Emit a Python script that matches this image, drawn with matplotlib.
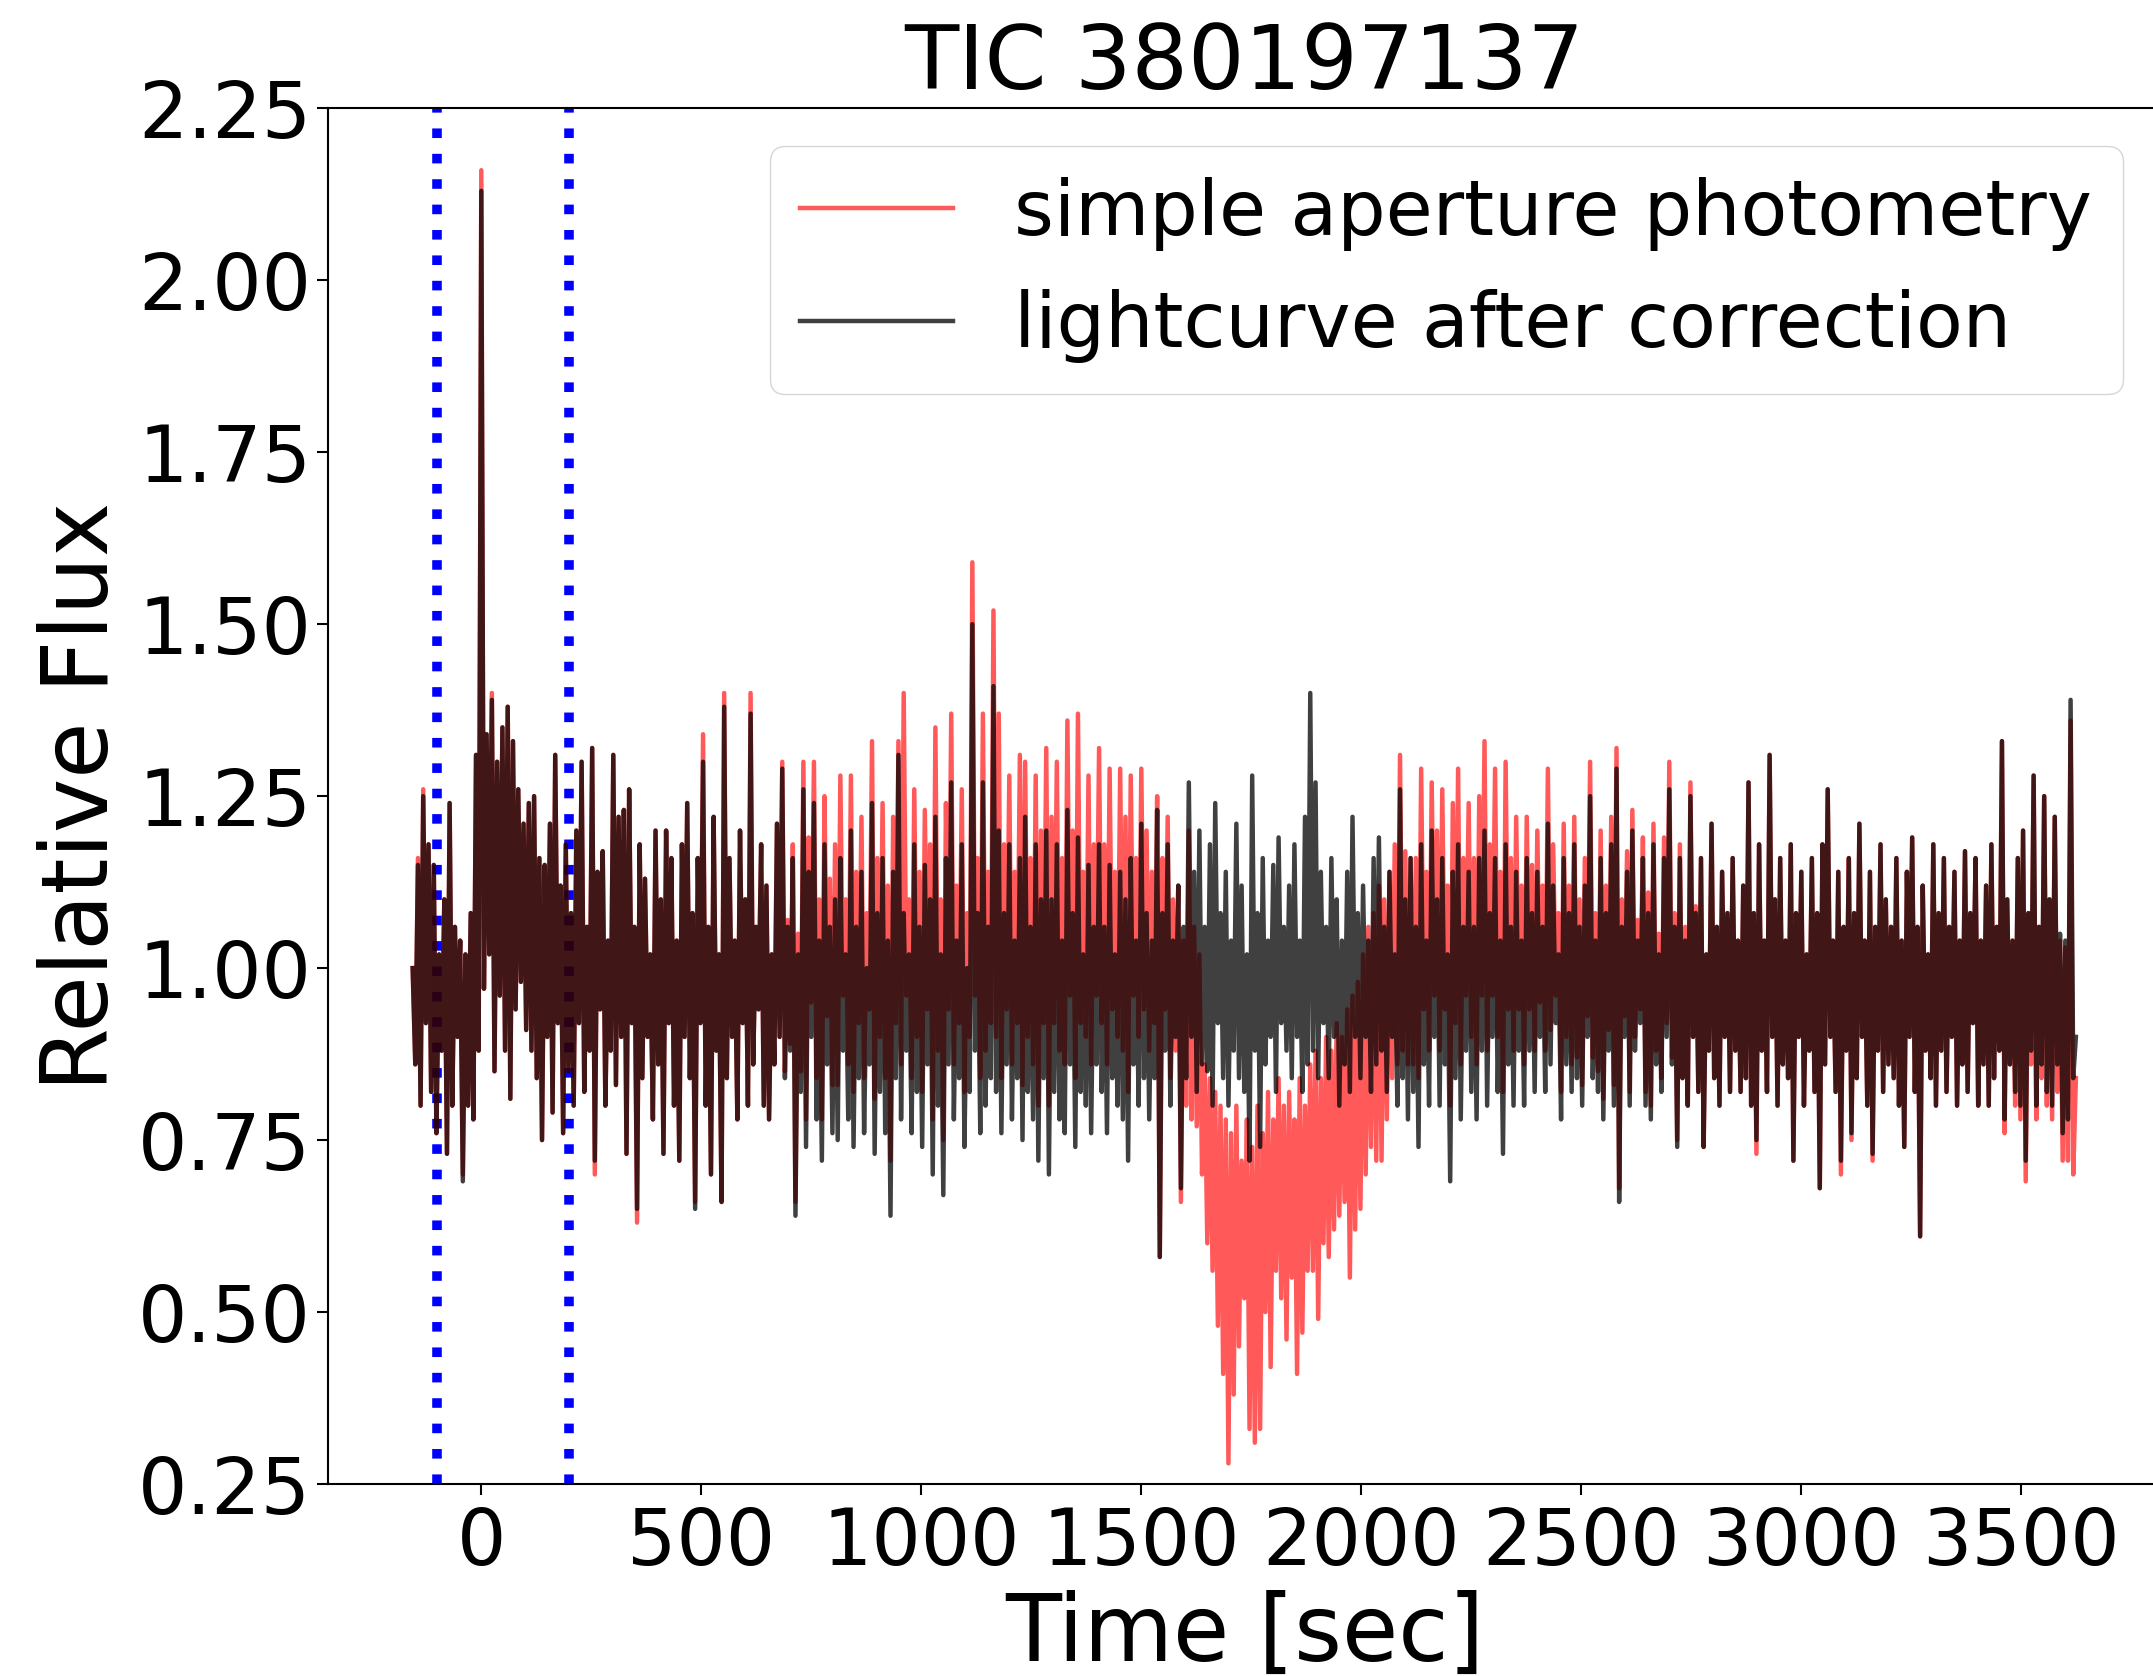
import numpy as np
import matplotlib
matplotlib.use("Agg")
import matplotlib.pyplot as plt
from matplotlib.ticker import FormatStrFormatter

title = "TIC 380197137"
label_sap = "simple aperture photometry"
label_corr = "lightcurve after correction"

# time sampling of the light curve (seconds relative to the event)
t_start = -156.0
t_step = 6.0

# simple aperture photometry (red), one row = 120 s
sap_flux = [
    1.00, 0.86, 1.16, 0.80, 1.26, 0.92, 1.18, 0.82, 1.15, 0.76, 1.02, 0.88, 1.10, 0.73, 1.24, 0.80, 1.06, 0.90, 1.04, 0.70,
    1.02, 0.80, 1.08, 0.78, 1.31, 0.88, 2.16, 0.97, 1.34, 1.02, 1.40, 0.85, 1.30, 0.96, 1.35, 0.88, 1.38, 0.81, 1.33, 0.94,
    1.26, 0.98, 1.21, 0.91, 1.24, 0.88, 1.25, 0.84, 1.16, 0.75, 1.15, 0.90, 1.21, 0.79, 1.31, 0.92, 1.12, 0.76, 1.18, 0.85,
    1.08, 0.80, 1.20, 0.92, 1.30, 0.82, 1.06, 0.88, 1.32, 0.70, 1.14, 0.94, 1.17, 0.80, 1.04, 0.88, 1.31, 0.83, 1.22, 0.90,
    1.23, 0.73, 1.26, 0.92, 1.06, 0.63, 1.18, 0.84, 1.13, 0.90, 1.02, 0.78, 1.20, 0.86, 1.10, 0.73, 1.20, 0.92, 1.16, 0.80,
    1.04, 0.72, 1.18, 0.90, 1.24, 0.84, 1.08, 0.66, 1.16, 0.92, 1.34, 0.80, 1.06, 0.70, 1.22, 0.88, 1.02, 0.66, 1.40, 0.84,
    1.16, 0.90, 1.04, 0.78, 1.20, 0.92, 1.10, 0.80, 1.40, 0.86, 1.06, 0.94, 1.18, 0.80, 1.12, 0.78, 1.02, 0.86, 1.21, 0.90,
    1.30, 0.85, 1.07, 0.89, 1.18, 0.66, 1.05, 0.85, 1.30, 0.78, 1.19, 0.95, 1.30, 0.84, 1.10, 0.78, 1.25, 0.93, 1.13, 0.83,
    1.18, 0.83, 1.28, 0.96, 1.10, 0.86, 1.28, 0.82, 1.14, 0.92, 1.22, 0.84, 1.08, 0.94, 1.33, 0.81, 1.16, 0.90, 1.24, 0.84,
    1.12, 0.72, 1.22, 0.92, 1.33, 0.86, 1.40, 0.96, 1.10, 0.84, 1.26, 0.90, 1.14, 0.82, 1.23, 0.94, 1.18, 0.78, 1.35, 0.88,
    1.10, 0.75, 1.24, 0.94, 1.37, 0.86, 1.12, 0.92, 1.26, 0.82, 1.08, 0.90, 1.59, 0.96, 1.16, 0.84, 1.37, 0.88, 1.14, 0.92,
    1.52, 0.90, 1.37, 0.84, 1.18, 0.94, 1.28, 0.86, 1.14, 0.92, 1.31, 0.83, 1.30, 0.90, 1.16, 0.86, 1.28, 0.80, 1.20, 0.92,
    1.32, 0.80, 1.22, 0.92, 1.30, 0.88, 1.16, 0.86, 1.36, 0.96, 1.20, 0.84, 1.37, 0.92, 1.14, 0.90, 1.28, 0.86, 1.18, 0.96,
    1.32, 0.92, 1.18, 0.86, 1.29, 0.94, 1.14, 0.90, 1.29, 0.88, 1.22, 0.82, 1.28, 0.96, 1.16, 0.90, 1.29, 0.94, 1.20, 0.88,
    1.14, 0.92, 1.25, 0.58, 1.16, 0.94, 1.22, 0.84, 1.10, 0.88, 1.12, 0.66, 1.04, 0.80, 1.20, 0.78, 1.06, 0.77, 1.02, 0.70,
    0.86, 0.60, 0.84, 0.56, 0.82, 0.48, 0.80, 0.41, 0.78, 0.28, 0.76, 0.38, 0.80, 0.45, 0.72, 0.52, 0.78, 0.33, 0.74, 0.31,
    0.80, 0.33, 0.76, 0.50, 0.82, 0.42, 0.78, 0.56, 0.84, 0.52, 0.80, 0.46, 0.82, 0.55, 0.78, 0.41, 0.84, 0.47, 0.80, 0.56,
    0.86, 0.56, 0.88, 0.49, 0.84, 0.60, 0.90, 0.58, 0.88, 0.62, 0.92, 0.64, 0.90, 0.66, 0.94, 0.55, 0.96, 0.62, 0.98, 0.65,
    1.02, 0.70, 1.06, 0.74, 1.08, 0.72, 1.12, 0.72, 1.10, 0.78, 1.14, 0.84, 1.18, 0.86, 1.31, 0.88, 1.17, 0.86, 1.16, 0.86,
    1.16, 0.84, 1.29, 0.94, 1.14, 0.88, 1.27, 0.96, 1.20, 0.88, 1.26, 0.94, 1.12, 0.80, 1.24, 0.92, 1.29, 0.86, 1.16, 0.96,
    1.24, 0.90, 1.16, 0.86, 1.25, 0.96, 1.33, 0.88, 1.18, 0.96, 1.29, 0.90, 1.14, 0.82, 1.30, 0.94, 1.16, 0.88, 1.22, 0.94,
    1.12, 0.86, 1.22, 0.94, 1.15, 0.88, 1.20, 0.95, 1.12, 0.88, 1.29, 0.91, 1.18, 0.96, 1.08, 0.82, 1.21, 0.90, 1.12, 0.86,
    1.22, 0.87, 1.10, 0.83, 1.16, 0.93, 1.30, 0.87, 1.08, 0.85, 1.20, 0.81, 1.12, 0.91, 1.22, 0.83, 1.32, 0.68, 1.10, 0.93,
    1.17, 0.82, 1.23, 0.90, 1.07, 0.94, 1.19, 0.82, 1.11, 0.80, 1.21, 0.88, 1.05, 0.84, 1.19, 0.92, 1.30, 0.87, 1.08, 0.75,
    1.18, 0.84, 1.06, 0.80, 1.27, 0.90, 1.09, 0.82, 1.16, 0.74, 1.02, 0.88, 1.21, 0.84, 1.06, 0.80, 1.14, 0.90, 1.08, 0.82,
    1.16, 0.88, 1.04, 0.82, 1.12, 0.84, 1.27, 0.80, 1.08, 0.73, 1.18, 0.88, 1.04, 0.82, 1.31, 0.90, 1.10, 0.80, 1.16, 0.86,
    1.04, 0.84, 1.18, 0.72, 1.08, 0.90, 1.14, 0.80, 1.02, 0.88, 1.16, 0.82, 1.08, 0.68, 1.18, 0.86, 1.26, 0.90, 1.04, 0.82,
    1.14, 0.70, 1.06, 0.88, 1.16, 0.75, 1.08, 0.84, 1.21, 0.90, 1.04, 0.80, 1.14, 0.72, 1.06, 0.88, 1.18, 0.82, 1.10, 0.86,
    1.06, 0.84, 1.16, 0.80, 1.04, 0.74, 1.14, 0.90, 1.19, 0.82, 1.06, 0.61, 1.12, 0.88, 1.02, 0.84, 1.18, 0.80, 1.08, 0.88,
    1.16, 0.82, 1.06, 0.90, 1.14, 0.80, 1.04, 0.86, 1.17, 0.82, 1.08, 0.92, 1.16, 0.80, 1.04, 0.86, 1.12, 0.80, 1.18, 0.84,
    1.06, 0.88, 1.33, 0.76, 1.10, 0.86, 1.04, 0.80, 1.16, 0.78, 1.20, 0.69, 1.08, 0.86, 1.28, 0.78, 1.06, 0.84, 1.25, 0.80,
    1.10, 0.78, 1.22, 0.82, 1.04, 0.72, 1.03, 0.72, 1.36, 0.70, 0.84,
]

# light curve after correction (black), one row = 120 s
corr_flux = [
    1.00, 0.86, 1.15, 0.80, 1.25, 0.92, 1.18, 0.82, 1.15, 0.76, 1.02, 0.88, 1.10, 0.73, 1.24, 0.80, 1.06, 0.90, 1.04, 0.69,
    1.02, 0.80, 1.08, 0.78, 1.31, 0.88, 2.13, 0.97, 1.34, 1.02, 1.39, 0.85, 1.30, 0.96, 1.35, 0.88, 1.38, 0.81, 1.33, 0.94,
    1.26, 0.98, 1.21, 0.91, 1.24, 0.88, 1.25, 0.84, 1.16, 0.75, 1.15, 0.90, 1.21, 0.79, 1.31, 0.92, 1.12, 0.76, 1.18, 0.85,
    1.08, 0.80, 1.20, 0.92, 1.30, 0.82, 1.06, 0.88, 1.32, 0.72, 1.14, 0.94, 1.17, 0.80, 1.04, 0.88, 1.31, 0.83, 1.22, 0.90,
    1.23, 0.73, 1.26, 0.92, 1.06, 0.65, 1.18, 0.84, 1.13, 0.90, 1.02, 0.78, 1.20, 0.86, 1.10, 0.73, 1.20, 0.92, 1.16, 0.80,
    1.04, 0.72, 1.18, 0.90, 1.24, 0.84, 1.08, 0.65, 1.16, 0.92, 1.30, 0.80, 1.06, 0.70, 1.22, 0.88, 1.02, 0.66, 1.38, 0.84,
    1.16, 0.90, 1.04, 0.78, 1.20, 0.92, 1.10, 0.80, 1.37, 0.86, 1.06, 0.94, 1.18, 0.80, 1.12, 0.78, 1.02, 0.86, 1.21, 0.90,
    1.29, 0.84, 1.06, 0.88, 1.16, 0.64, 1.02, 0.82, 1.26, 0.74, 1.14, 0.90, 1.24, 0.78, 1.04, 0.72, 1.18, 0.86, 1.06, 0.76,
    1.10, 0.75, 1.16, 0.88, 1.02, 0.78, 1.20, 0.74, 1.06, 0.84, 1.14, 0.76, 1.00, 0.86, 1.24, 0.73, 1.08, 0.82, 1.16, 0.76,
    1.04, 0.64, 1.14, 0.84, 1.31, 0.78, 1.08, 0.88, 1.02, 0.76, 1.18, 0.82, 1.06, 0.74, 1.15, 0.86, 1.10, 0.70, 1.22, 0.80,
    1.02, 0.67, 1.16, 0.86, 1.27, 0.78, 1.04, 0.84, 1.18, 0.74, 1.00, 0.82, 1.50, 0.88, 1.08, 0.76, 1.27, 0.80, 1.06, 0.84,
    1.41, 0.82, 1.20, 0.76, 1.08, 0.86, 1.18, 0.78, 1.04, 0.84, 1.16, 0.75, 1.22, 0.82, 1.06, 0.78, 1.18, 0.72, 1.10, 0.84,
    1.20, 0.70, 1.10, 0.82, 1.18, 0.78, 1.04, 0.76, 1.23, 0.86, 1.08, 0.74, 1.19, 0.82, 1.02, 0.80, 1.15, 0.76, 1.06, 0.86,
    1.18, 0.82, 1.06, 0.76, 1.15, 0.84, 1.02, 0.80, 1.14, 0.78, 1.10, 0.72, 1.16, 0.86, 1.04, 0.80, 1.21, 0.84, 1.08, 0.78,
    1.04, 0.84, 1.23, 0.58, 1.08, 0.88, 1.18, 0.80, 1.04, 0.90, 1.12, 0.68, 1.06, 0.84, 1.27, 0.90, 1.14, 0.82, 1.20, 0.86,
    1.06, 0.85, 1.18, 0.80, 1.24, 0.92, 1.08, 0.84, 1.14, 0.80, 1.04, 0.88, 1.21, 0.84, 1.12, 0.82, 1.02, 0.72, 1.28, 0.88,
    1.08, 0.74, 1.16, 0.86, 1.04, 0.90, 1.15, 0.82, 1.19, 0.92, 1.06, 0.88, 1.12, 0.84, 1.18, 0.90, 1.04, 0.82, 1.22, 0.86,
    1.40, 0.88, 1.27, 0.84, 1.14, 0.92, 1.06, 0.84, 1.16, 0.90, 1.10, 0.80, 1.04, 0.86, 1.14, 0.82, 1.22, 0.90, 1.08, 0.84,
    1.12, 0.90, 1.04, 0.82, 1.16, 0.86, 1.19, 0.88, 1.06, 0.82, 1.14, 0.90, 1.02, 0.80, 1.26, 0.84, 1.10, 0.78, 1.16, 0.82,
    1.06, 0.74, 1.18, 0.86, 1.04, 0.80, 1.20, 0.90, 1.10, 0.80, 1.16, 0.86, 1.02, 0.69, 1.14, 0.84, 1.18, 0.78, 1.06, 0.88,
    1.14, 0.82, 1.06, 0.78, 1.16, 0.88, 1.20, 0.80, 1.08, 0.90, 1.16, 0.82, 1.04, 0.73, 1.18, 0.86, 1.06, 0.80, 1.14, 0.88,
    1.04, 0.80, 1.16, 0.88, 1.08, 0.82, 1.14, 0.90, 1.06, 0.82, 1.21, 0.86, 1.12, 0.92, 1.02, 0.78, 1.16, 0.86, 1.08, 0.82,
    1.18, 0.84, 1.06, 0.80, 1.12, 0.90, 1.25, 0.84, 1.04, 0.82, 1.16, 0.78, 1.08, 0.88, 1.18, 0.80, 1.29, 0.66, 1.06, 0.90,
    1.14, 0.80, 1.20, 0.88, 1.04, 0.92, 1.16, 0.80, 1.08, 0.78, 1.18, 0.86, 1.02, 0.82, 1.16, 0.90, 1.26, 0.86, 1.06, 0.74,
    1.16, 0.84, 1.04, 0.80, 1.25, 0.90, 1.08, 0.82, 1.16, 0.74, 1.02, 0.88, 1.21, 0.84, 1.06, 0.80, 1.14, 0.90, 1.08, 0.82,
    1.16, 0.88, 1.04, 0.82, 1.12, 0.84, 1.27, 0.80, 1.08, 0.75, 1.18, 0.88, 1.04, 0.82, 1.31, 0.90, 1.10, 0.80, 1.16, 0.86,
    1.04, 0.84, 1.18, 0.72, 1.08, 0.90, 1.14, 0.80, 1.02, 0.88, 1.16, 0.82, 1.08, 0.68, 1.18, 0.86, 1.26, 0.90, 1.04, 0.82,
    1.14, 0.72, 1.06, 0.88, 1.16, 0.76, 1.08, 0.84, 1.21, 0.90, 1.04, 0.80, 1.14, 0.73, 1.06, 0.88, 1.18, 0.82, 1.10, 0.86,
    1.06, 0.84, 1.16, 0.80, 1.04, 0.74, 1.14, 0.90, 1.19, 0.82, 1.06, 0.61, 1.12, 0.88, 1.02, 0.84, 1.18, 0.80, 1.08, 0.88,
    1.16, 0.82, 1.06, 0.90, 1.14, 0.80, 1.04, 0.86, 1.17, 0.82, 1.08, 0.92, 1.16, 0.80, 1.04, 0.86, 1.12, 0.80, 1.18, 0.84,
    1.06, 0.88, 1.33, 0.78, 1.10, 0.86, 1.04, 0.82, 1.16, 0.80, 1.20, 0.72, 1.08, 0.88, 1.28, 0.80, 1.06, 0.86, 1.25, 0.82,
    1.10, 0.80, 1.22, 0.86, 1.05, 0.76, 1.04, 0.78, 1.39, 0.84, 0.90,
]

event_window = [-100, 200]
xticks = [0, 500, 1000, 1500, 2000, 2500, 3000, 3500]
yticks = [0.25, 0.50, 0.75, 1.00, 1.25, 1.50, 1.75, 2.00, 2.25]

n = min(len(sap_flux), len(corr_flux))
time = t_start + t_step * np.arange(n)

plt.rcParams['font.family'] = ['DejaVu Sans']
fig = plt.figure(figsize=(21.53, 16.76), dpi=100)
ax = fig.add_axes([0.15253, 0.11456, 0.85109, 0.82082])

for tv in event_window:
    ax.axvline(tv, color='blue', linestyle=':', linewidth=6.9, zorder=1)

ax.plot(time, sap_flux[:n], color='red', alpha=0.65, linewidth=3.2,
        label=label_sap, zorder=2)
ax.plot(time, corr_flux[:n], color='black', alpha=0.75, linewidth=3.2,
        label=label_corr, zorder=3)

ax.set_xlim(-347.5, 3817)
ax.set_ylim(0.25, 2.25)
ax.set_xticks(xticks)
ax.set_yticks(yticks)
ax.yaxis.set_major_formatter(FormatStrFormatter('%.2f'))

for sp in ax.spines.values():
    sp.set_linewidth(1.5)
ax.tick_params(axis='both', length=7.9, width=1.5, labelsize=56)
ax.tick_params(axis='x', pad=7.5)
ax.tick_params(axis='y', pad=4.5)

ax.set_xlabel("Time [sec]", fontsize=66, labelpad=6)
ax.set_ylabel("Relative Flux", fontsize=66, labelpad=8)
ax.set_title(title, fontsize=64, pad=13.7)

ax.legend(loc='upper right', fontsize=55)

fig.savefig("out.png", dpi=100)
